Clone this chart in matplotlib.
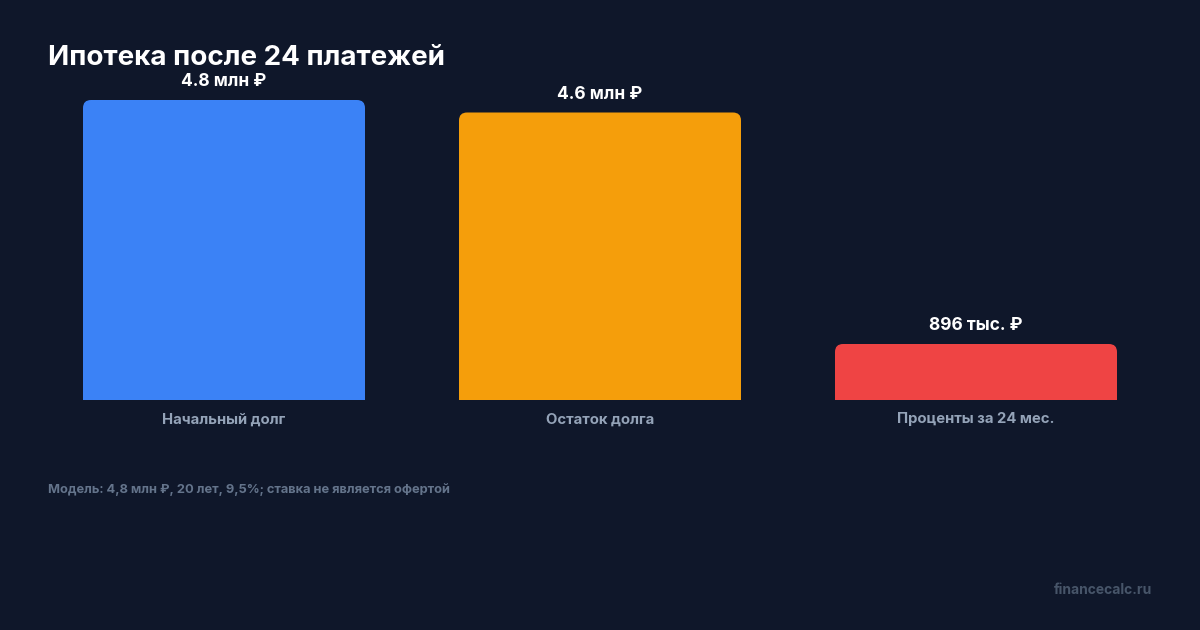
import matplotlib
matplotlib.use("Agg")
import matplotlib.pyplot as plt
from matplotlib.patches import FancyBboxPatch, Rectangle

# data
categories = ["Начальный долг", "Остаток долга", "Проценты за 24 мес."]
values_mln = [4.8, 4.6, 0.896]
value_labels = ["4.8 млн ₽", "4.6 млн ₽", "896 тыс. ₽"]
colors = ["#3B82F6", "#F59E0B", "#EF4444"]

BG = "#0F172A"
FONT = ["Inter", "DejaVu Sans"]
plt.rcParams["font.family"] = FONT

W, H, DPI = 1200, 630, 100
fig = plt.figure(figsize=(W / DPI, H / DPI), dpi=DPI, facecolor=BG)

# axes placed in pixel terms: baseline at y=400, 4.8 at y=100
left, right, top, bottom = 36, 1164, 100, 400
ax = fig.add_axes([left / W, 1 - bottom / H, (right - left) / W, (bottom - top) / H])
ax.set_facecolor(BG)
ax.set_xlim(-0.5, len(categories) - 0.5)
ax.set_ylim(0, 4.8)
for s in ax.spines.values():
    s.set_visible(False)
ax.set_xticks([])
ax.set_yticks([])

bar_w = 0.75
px_per_x = (right - left) / len(categories)
px_per_y = (bottom - top) / 4.8
aspect = px_per_x / px_per_y
r = 8 / px_per_x  # corner radius in x units

for i, (v, c) in enumerate(zip(values_mln, colors)):
    x0 = i - bar_w / 2
    ax.add_patch(FancyBboxPatch((x0, 0), bar_w, v,
                                boxstyle=f"round,pad=0,rounding_size={r}",
                                mutation_aspect=aspect, fc=c, ec="none",
                                clip_on=False))
    # square off the bottom corners
    ax.add_patch(Rectangle((x0, 0), bar_w, v / 2, fc=c, ec="none", clip_on=False))
    ax.annotate(value_labels[i], (i, v), xytext=(0, 13), textcoords="offset points",
                ha="center", va="center", color="white", fontsize=12.5,
                fontweight="bold", annotation_clip=False)
    ax.annotate(categories[i], (i, 0), xytext=(0, -14), textcoords="offset points",
                ha="center", va="center", color="#94A3B8", fontsize=10.7,
                fontweight="bold", annotation_clip=False)

fig.text(48 / W, 1 - 58 / H, "Ипотека после 24 платежей", color="white",
         fontsize=20, fontweight="bold", ha="left", va="center")
fig.text(48 / W, 1 - 490 / H, "Модель: 4,8 млн ₽, 20 лет, 9,5%; ставка не является офертой",
         color="#64748B", fontsize=9.25, fontweight="bold", ha="left", va="center")
fig.text(1152 / W, 1 - 590 / H, "financecalc.ru", color="#475569",
         fontsize=10, fontweight="bold", ha="right", va="center")

fig.savefig("out.png", dpi=DPI, facecolor=BG)
